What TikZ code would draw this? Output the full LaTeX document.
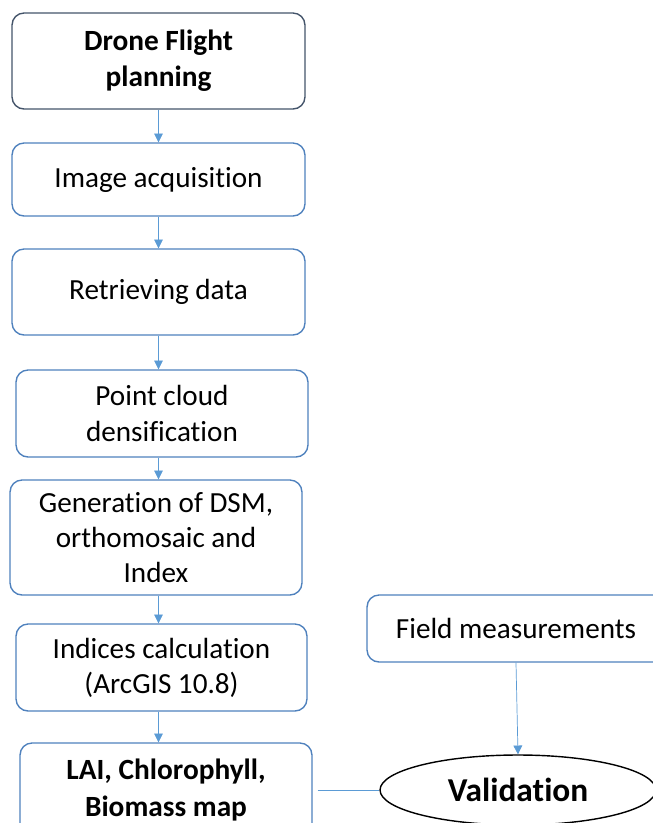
\documentclass[tikz,border=0pt]{standalone}
\usepackage{fontspec}
\setmainfont{Carlito}[RawFeature={-liga}]
\usetikzlibrary{arrows.meta,shapes.geometric}
\definecolor{myBlue}{RGB}{79,129,189}
\definecolor{myLightBlue}{RGB}{91,155,213}
\definecolor{mySlate}{RGB}{68,84,106}

\begin{document}
\begin{tikzpicture}[%
    x=0.02cm, y=-0.02cm,
    every node/.style={
        font=\fontsize{16.6}{20}\selectfont,
        align=center,
    },
    stepbox/.style={
        draw=myBlue, thick, rounded corners=0.24cm,
        minimum width=5.86cm, inner sep=0pt,
    },
    flow/.style={
        myLightBlue, -{Triangle[width=5pt,length=5pt]},
    },
]
\useasboundingbox (0,0) rectangle (653,823);

% draw process boxes
\node[stepbox,draw=mySlate,minimum height=1.92cm,font=\fontsize{16.7}{20.5}\selectfont\bfseries]
    (plan) at (158.5,61) {Drone Flight\\planning};
\node[stepbox,minimum height=1.46cm] (acq) at (158.5,179.5) {Image acquisition};
\node[stepbox,minimum height=1.72cm] (retr) at (158.5,292) {Retrieving data};
\node[stepbox,minimum width=5.84cm,minimum height=1.74cm] (cloud) at (162,413.5)
    {Point cloud\\densification};
\node[stepbox,minimum width=5.84cm,minimum height=2.3cm] (gen) at (156,537.5)
    {Generation of DSM,\\orthomosaic and\\Index};
\node[stepbox,minimum width=5.82cm,minimum height=1.74cm] (ind) at (161.5,667.5)
    {Indices calculation\\(ArcGIS 10.8)};
\node[stepbox,minimum width=5.84cm,minimum height=1.88cm,font=\fontsize{16.7}{20.5}\selectfont\bfseries]
    (lai) at (166,790) {LAI, Chlorophyll,\\Biomass map};

% field side
\node[stepbox,minimum width=5.96cm,minimum height=1.34cm] (field) at (516,628.5)
    {Field measurements};
\node[draw,ellipse,thick,minimum width=5.52cm,minimum height=1.4cm,
    font=\fontsize{19}{22}\selectfont\bfseries] (val) at (518,790) {Validation};

% draw arrows
\draw[flow] (plan.south) -- (acq.north);
\draw[flow] (acq.south) -- (retr.north);
\draw[flow] (retr.south) -- (cloud.north -| retr);
\draw[flow] (cloud.south -| retr) -- (gen.north -| retr);
\draw[flow] (gen.south -| retr) -- (ind.north -| retr);
\draw[flow] (ind.south -| retr) -- (lai.north -| retr);
\draw[flow] (field.south) -- (val.north);
\draw[myLightBlue,shorten <=0.1cm] (lai.east) -- (val.west);

\end{tikzpicture}
\end{document}
